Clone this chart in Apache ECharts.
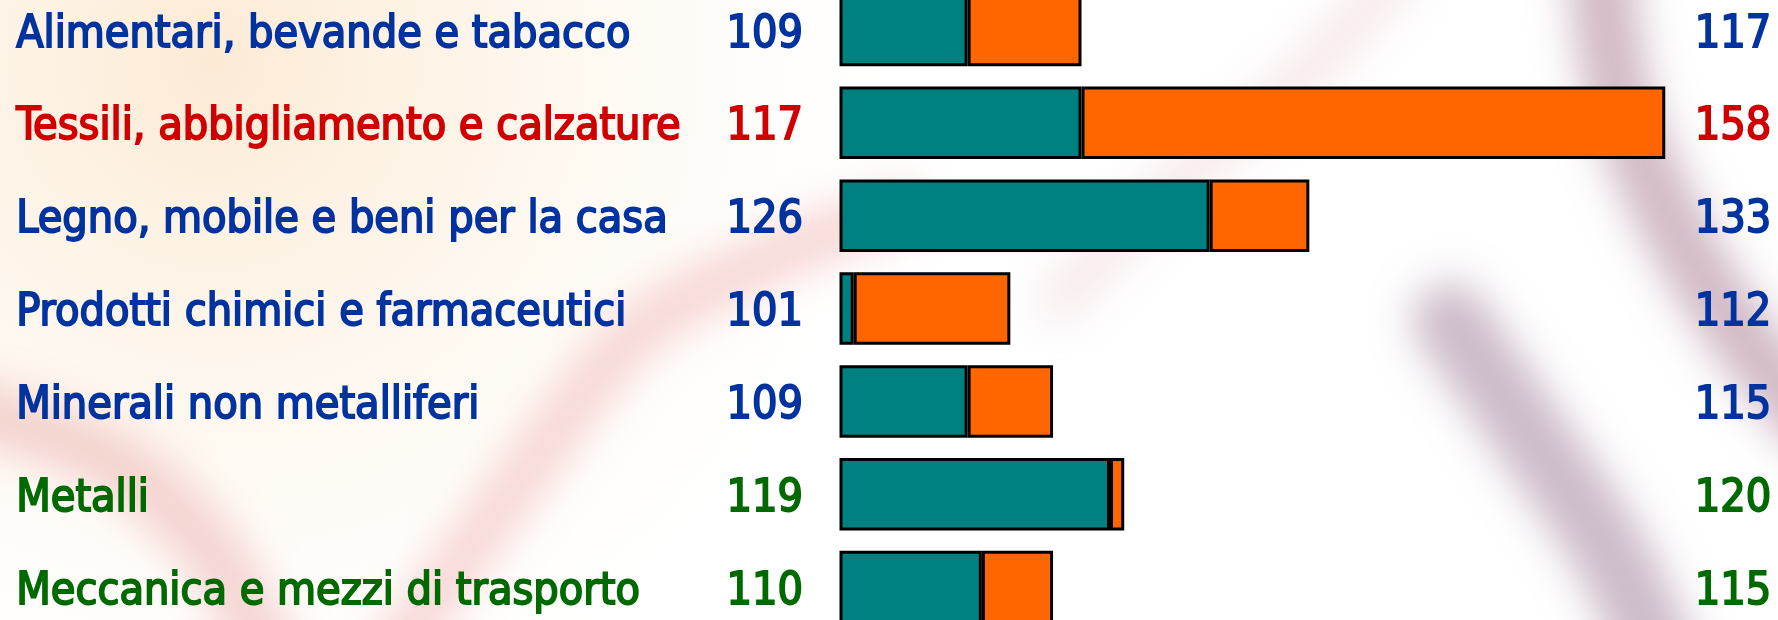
<!DOCTYPE html>
<html>
<head>
<meta charset="utf-8">
<script src="https://cdn.jsdelivr.net/npm/echarts@6/dist/echarts.min.js"></script>
<style>
html,body{margin:0;padding:0;background:#fff;}
#c{width:1778px;height:620px;}
</style>
</head>
<body>
<div id="c"></div>
<script>
const categories = [
  'Alimentari, bevande e tabacco',
  'Tessili, abbigliamento e calzature',
  'Legno, mobile e beni per la casa',
  'Prodotti chimici e farmaceutici',
  'Minerali non metalliferi',
  'Metalli',
  'Meccanica e mezzi di trasporto'
];
const startValues = [109, 117, 126, 101, 109, 119, 110];
const endValues = [117, 158, 133, 112, 115, 120, 115];
const baseValue = 100;

const tealData = startValues.map(v => v - baseValue);
const orangeData = endValues.map((v, i) => v - startValues[i]);

function styleKey(i) {
  if (i === 1) return 'r';
  if (i >= 5) return 'g';
  return 'b';
}
const FONT = 'DejaVu Sans Condensed';
const FS = 44.5;
function txt(c) {
  return {color: c, fontSize: FS, fontFamily: FONT, textBorderColor: c, textBorderWidth: 1.8,
          padding: [10, 0, 0, 0]};
}
const rich = {b: txt('#0033a0'), r: txt('#d00000'), g: txt('#006a00')};
const chart = echarts.init(document.getElementById('c'), null, {renderer: 'canvas'});

const OFF = 4000;
function blurStreak(points, color, width, blur) {
  return {type: 'polyline', z: -90, silent: true,
    shape: {points: points.map(p => [p[0] + OFF, p[1]]), smooth: 0.3},
    style: {stroke: '#000', lineWidth: width, fill: null, lineJoin: 'round', lineCap: 'round',
            shadowBlur: blur, shadowColor: color, shadowOffsetX: -OFF, shadowOffsetY: 0}};
}

const bgElements = [
  {type: 'rect', shape: {x: 0, y: 0, width: 1778, height: 620}, z: -100, silent: true,
   style: {fill: {type: 'radial', x: 0.12, y: 0.1, r: 1.2, colorStops: [
     {offset: 0, color: 'rgba(252,232,208,0.9)'},
     {offset: 0.5, color: 'rgba(253,243,228,0.55)'},
     {offset: 1, color: 'rgba(255,255,255,0)'}]}}},
  blurStreak([[390,660],[520,480],[640,330],[790,250],[900,210]], 'rgba(235,160,160,0.42)', 50, 40),
  blurStreak([[-30,410],[110,460],[210,550],[270,660]], 'rgba(230,150,150,0.4)', 60, 40),
  blurStreak([[1060,300],[1180,180],[1300,80],[1400,-30]], 'rgba(225,170,180,0.25)', 45, 40),
  blurStreak([[1600,-30],[1620,100],[1665,210],[1730,320],[1810,420]], 'rgba(170,125,150,0.55)', 65, 40),
  blurStreak([[1450,320],[1530,435],[1610,553],[1660,660]], 'rgba(170,140,165,0.6)', 75, 40)
];

const option = {
  backgroundColor: '#ffffff',
  animation: false,
  graphic: {elements: bgElements},
  grid: {left: 839.5, top: -16.4, width: 854.2, height: 649.9, containLabel: false, outerBoundsMode: 'none'},
  xAxis: {type: 'value', min: 0, max: 60, show: false},
  yAxis: [
    {
      type: 'category', data: categories, inverse: true, position: 'left',
      axisLine: {show: false}, axisTick: {show: false}, splitLine: {show: false},
      axisLabel: {
        interval: 0, align: 'left', margin: 823.3,
        formatter: (v, i) => '{' + styleKey(i) + '|' + v + '}', rich: rich
      }
    },
    {
      type: 'category', data: categories, inverse: true, position: 'left',
      axisLine: {show: false}, axisTick: {show: false}, splitLine: {show: false},
      axisLabel: {
        interval: 0, align: 'right', margin: 36.5,
        formatter: (v, i) => '{' + styleKey(i) + '|' + startValues[i] + '}', rich: rich
      }
    },
    {
      type: 'category', data: categories, inverse: true, position: 'right',
      axisLine: {show: false}, axisTick: {show: false}, splitLine: {show: false},
      axisLabel: {
        interval: 0, align: 'right', margin: 77.5,
        formatter: (v, i) => '{' + styleKey(i) + '|' + endValues[i] + '}', rich: rich
      }
    }
  ],
  series: [
    {type: 'bar', stack: 'a', yAxisIndex: 0, data: tealData, barWidth: 72.5,
     itemStyle: {color: '#008080', borderColor: '#000', borderWidth: 3}},
    {type: 'bar', stack: 'a', yAxisIndex: 0, data: orangeData, barWidth: 72.5,
     itemStyle: {color: '#ff6600', borderColor: '#000', borderWidth: 3}}
  ]
};
chart.setOption(option);
</script>
</body>
</html>
